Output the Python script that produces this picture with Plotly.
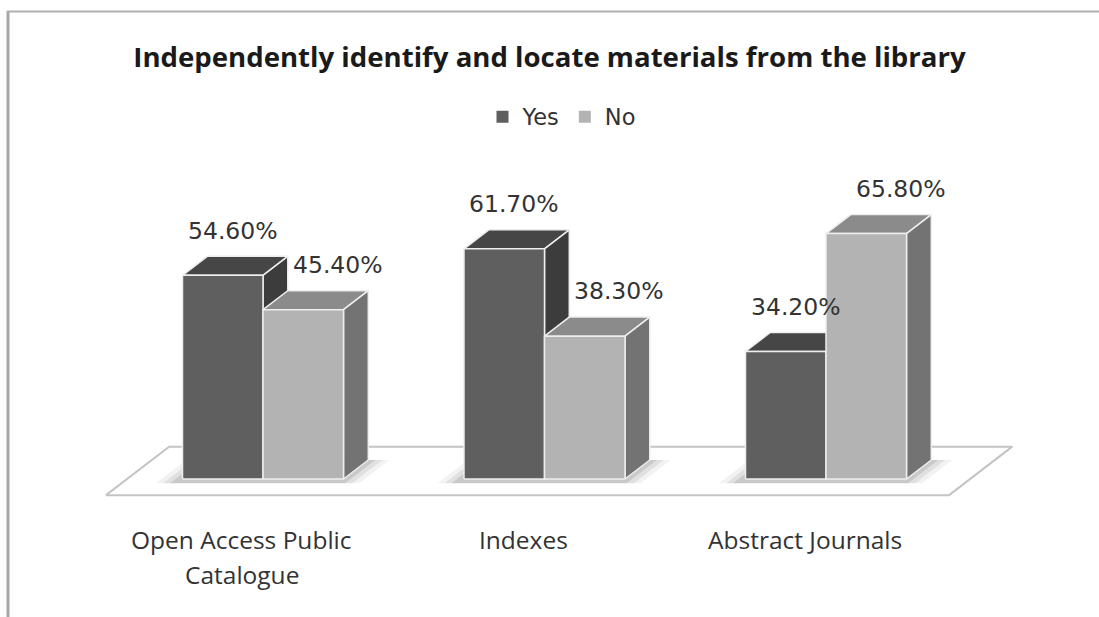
import plotly.graph_objects as go

# ---- data -------------------------------------------------------------
categories = ["Open Access Public<br>Catalogue", "Indexes", "Abstract Journals"]
series_names = ["Yes", "No"]
yes_values = [54.6, 61.7, 34.2]
no_values = [45.4, 38.3, 65.8]
value_labels_yes = ["54.60%", "61.70%", "34.20%"]
value_labels_no = ["45.40%", "38.30%", "65.80%"]

# ---- 3-D look parameters (data units) ---------------------------------
BAR_W = 0.286          # width of one column front face
DEPTH_X = 0.088        # horizontal shift of the receding depth
DEPTH_Y = 5.1          # vertical shift of the receding depth
FLOOR_LEFT, FLOOR_RIGHT = -0.483, 2.512
FLOOR_FRONT, FLOOR_BACK = -0.85, 1.7   # in depth units

styles = {
    "Yes": dict(front="#5f5f5f", top="#464646", side="#3c3c3c"),
    "No": dict(front="#b3b3b3", top="#8b8b8b", side="#737373"),
}
EDGE = "#eeeeee"

fig = go.Figure()


def poly(xs, ys, color, line_color=EDGE, width=1.5):
    fig.add_trace(go.Scatter(
        x=list(xs) + [xs[0]], y=list(ys) + [ys[0]],
        mode="lines", fill="toself", fillcolor=color,
        line=dict(color=line_color, width=width),
        hoverinfo="skip", showlegend=False,
    ))


# floor
fx = [FLOOR_LEFT + FLOOR_FRONT * DEPTH_X, FLOOR_RIGHT + FLOOR_FRONT * DEPTH_X,
      FLOOR_RIGHT + FLOOR_BACK * DEPTH_X, FLOOR_LEFT + FLOOR_BACK * DEPTH_X]
fy = [FLOOR_FRONT * DEPTH_Y, FLOOR_FRONT * DEPTH_Y,
      FLOOR_BACK * DEPTH_Y, FLOOR_BACK * DEPTH_Y]
poly(fx, fy, "white", line_color="#c4c4c4", width=2)

# soft shadows on the floor at the foot of each pair of columns
for g in range(len(categories)):
    for grow, alpha in [(0.075, 0.05), (0.05, 0.07), (0.025, 0.10)]:
        x0 = g - BAR_W - grow
        x1 = g + BAR_W + grow
        d0, d1 = -0.22, 1.0
        xs = [x0 + d0 * DEPTH_X, x1 + d0 * DEPTH_X, x1 + d1 * DEPTH_X, x0 + d1 * DEPTH_X]
        ys = [d0 * DEPTH_Y, d0 * DEPTH_Y, d1 * DEPTH_Y, d1 * DEPTH_Y]
        poly(xs, ys, "rgba(0,0,0,%.2f)" % alpha, line_color="rgba(0,0,0,0)", width=0)


def column(x0, x1, v, st):
    # top, right side, then front face
    poly([x0, x1, x1 + DEPTH_X, x0 + DEPTH_X], [v, v, v + DEPTH_Y, v + DEPTH_Y], st["top"])
    poly([x1, x1 + DEPTH_X, x1 + DEPTH_X, x1], [0, DEPTH_Y, v + DEPTH_Y, v], st["side"])
    poly([x0, x1, x1, x0], [0, 0, v, v], st["front"])


label_font = dict(family="DejaVu Sans", size=23.5, color="#333333")
for g in range(len(categories)):
    column(g - BAR_W, g, yes_values[g], styles["Yes"])
    column(g, g + BAR_W, no_values[g], styles["No"])
    fig.add_annotation(x=g - BAR_W / 2 + DEPTH_X * 0.4, y=yes_values[g] + 12,
                       text=value_labels_yes[g], showarrow=False, font=label_font)
    fig.add_annotation(x=g + BAR_W / 2 + DEPTH_X * 1.4, y=no_values[g] + 12,
                       text=value_labels_no[g], showarrow=False, font=label_font)

# category labels centred on the front edge of the floor
cat_font = dict(family="Open Sans", size=24.5, color="#333333")
for g, cat in enumerate(categories):
    lines = cat.split("<br>")
    for i, line in enumerate(lines):
        fig.add_annotation(x=g + FLOOR_FRONT * DEPTH_X, y=-16.3 - i * 9.4,
                           text=line, showarrow=False, font=cat_font)

# legend entries
for name in series_names:
    fig.add_trace(go.Bar(x=[None], y=[None], name=name,
                         marker=dict(color=styles[name]["front"], line=dict(width=0))))

fig.update_layout(
    width=1099, height=617,
    margin=dict(l=0, r=0, t=0, b=0),
    paper_bgcolor="white", plot_bgcolor="white",
    xaxis=dict(range=[-0.9343, 2.9698], visible=False, fixedrange=True),
    yaxis=dict(range=[-37.0, 128.42], visible=False, fixedrange=True),
    title=dict(text="<b>Independently identify and locate materials from the library</b>",
               x=0.5, xanchor="center", y=1 - 57 / 617, yanchor="middle",
               font=dict(family="Open Sans", size=27.6, color="#1a1a1a")),
    legend=dict(orientation="h", x=0.5 + 12 / 1099, xanchor="center", y=1 - 117 / 617,
                yanchor="middle",
                font=dict(family="DejaVu Sans", size=22.5, color="#333333"),
                bgcolor="rgba(0,0,0,0)", itemwidth=30),
    showlegend=True,
    shapes=[
        dict(type="line", xref="paper", yref="paper", x0=8 / 1099, x1=8 / 1099,
             y0=0, y1=1 - 11 / 617, line=dict(color="#a6a6a6", width=3)),
        dict(type="line", xref="paper", yref="paper", x0=7 / 1099, x1=1,
             y0=1 - 11.5 / 617, y1=1 - 11.5 / 617, line=dict(color="#b0b0b0", width=2)),
    ],
)

fig.write_html("out.html")
